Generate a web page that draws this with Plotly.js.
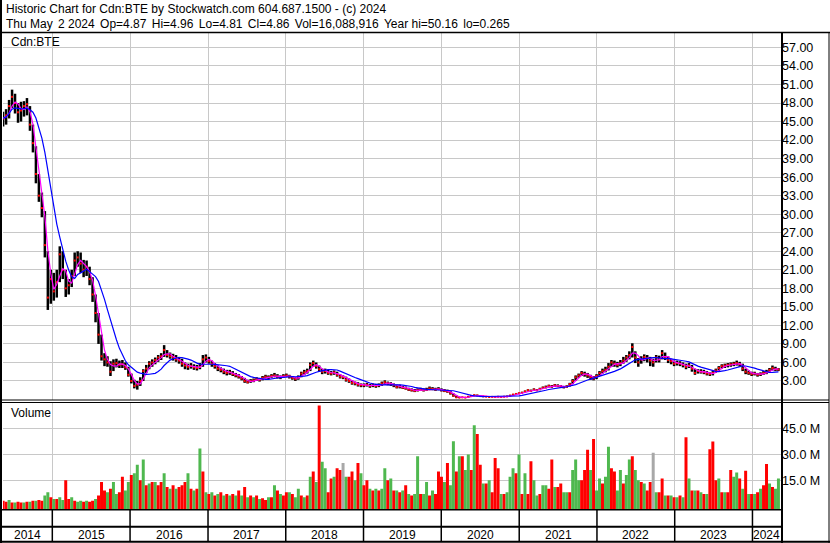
<!DOCTYPE html>
<html><head><meta charset="utf-8">
<script src="https://cdn.plot.ly/plotly-3.0.1.min.js"></script>
<style>html,body{margin:0;padding:0;background:#fff;}#chart{width:830px;height:543px;}</style>
</head><body><div id="chart"></div>
<script>
// ---- data: bi-weekly bars, Cdn:BTE, May 2014 - May 2024 ----
const firstBar = [2014, 4, 15];   // 2014-05-15
const barStepDays = 14;
const closes = [
45.5,46.0,47.5,49.0,48.0,46.5,46.8,47.5,47.8,44.5,
41.5,36.5,33.0,31.0,25.0,16.5,19.5,17.5,19.0,23.5,
21.0,18.0,18.5,20.0,22.5,23.0,22.0,21.0,21.5,19.5,
17.0,14.0,10.5,7.0,6.5,6.0,4.5,5.8,5.9,5.6,
5.7,5.2,4.0,3.0,2.2,2.4,3.0,4.6,5.0,5.8,
6.0,6.4,6.8,7.0,8.0,7.2,7.0,6.8,6.5,6.3,
5.8,5.5,5.3,5.4,5.2,5.1,5.3,6.5,6.8,6.2,
5.8,5.4,5.0,4.8,4.5,4.3,4.4,4.1,3.9,3.7,
3.4,3.0,2.8,3.0,3.1,3.3,3.2,3.5,3.7,3.6,
3.8,3.9,3.7,3.6,3.8,3.9,3.7,3.5,3.3,3.6,
4.2,4.4,4.6,5.6,5.9,5.4,4.9,4.5,4.6,4.3,
4.2,4.4,4.0,3.7,3.6,3.2,3.0,2.7,2.6,2.4,
2.3,2.3,2.4,2.2,2.3,2.2,2.3,2.6,2.8,2.6,
2.5,2.3,2.0,2.1,1.9,1.8,1.6,1.5,1.4,1.5,
1.6,1.5,1.6,1.8,1.7,1.6,1.7,1.5,1.4,1.3,
1.0,0.6,0.35,0.3,0.35,0.3,0.45,0.6,0.7,0.65,
0.55,0.5,0.45,0.4,0.42,0.4,0.45,0.4,0.45,0.5,
0.65,0.8,0.9,1.0,1.1,1.3,1.5,1.4,1.6,1.5,
1.7,1.9,2.0,2.2,2.1,2.3,2.2,2.1,2.0,2.1,
2.5,3.0,3.6,3.9,4.3,4.1,3.9,3.6,3.4,3.8,
4.3,4.6,4.8,5.3,6.0,5.8,5.6,5.9,6.3,6.8,
7.2,8.5,6.8,6.0,6.5,6.9,6.7,6.3,6.0,6.8,
6.5,7.5,6.9,6.4,6.2,5.8,5.9,5.8,5.6,5.3,
5.5,5.0,4.3,4.6,4.5,4.4,4.2,4.1,4.3,4.7,
5.1,5.4,5.5,5.6,5.7,5.8,5.9,5.7,5.0,4.5,
4.3,4.1,4.2,4.0,4.1,4.3,4.4,4.8,5.1,4.9,4.86];
const highs = [
46.6,47.0,48.5,50.16,49.5,48.0,48.2,48.3,48.8,47.5,
44.5,41.0,36.5,33.5,30.5,24.0,21.0,20.5,21.0,24.8,
24.0,21.0,19.5,21.0,23.8,24.0,23.8,22.6,22.5,21.5,
19.8,17.0,14.0,10.5,7.5,7.0,6.2,6.5,6.6,6.3,
6.4,6.0,5.3,4.2,3.2,3.0,3.6,4.9,5.6,6.2,
6.5,6.8,7.2,7.5,8.8,8.0,7.6,7.4,7.2,6.9,
6.6,6.0,5.8,5.9,5.7,5.6,5.9,7.2,7.3,6.9,
6.3,5.9,5.5,5.2,5.0,4.8,4.8,4.6,4.3,4.1,
3.8,3.5,3.2,3.3,3.4,3.6,3.5,3.8,4.0,3.9,
4.1,4.3,4.1,3.9,4.1,4.2,4.0,3.8,3.6,3.9,
4.5,4.8,5.0,6.0,6.3,6.0,5.5,5.0,5.0,4.8,
4.6,4.7,4.5,4.1,3.9,3.7,3.4,3.1,2.9,2.8,
2.6,2.6,2.7,2.5,2.6,2.5,2.6,2.9,3.1,2.9,
2.8,2.6,2.4,2.4,2.2,2.1,1.9,1.8,1.7,1.8,
1.9,1.8,1.9,2.1,2.0,1.9,2.0,1.8,1.7,1.6,
1.4,1.0,0.65,0.45,0.45,0.4,0.55,0.7,0.8,0.78,
0.68,0.6,0.55,0.5,0.5,0.48,0.52,0.48,0.52,0.58,
0.72,0.9,1.0,1.12,1.25,1.45,1.65,1.6,1.8,1.7,
1.9,2.1,2.25,2.4,2.35,2.5,2.45,2.35,2.2,2.3,
2.7,3.3,3.9,4.2,4.6,4.5,4.3,4.0,3.8,4.1,
4.6,5.0,5.3,5.9,6.4,6.3,6.1,6.4,6.9,7.2,
7.8,9.1,7.8,6.7,7.0,7.3,7.2,6.9,6.6,7.2,
7.1,8.0,7.6,7.0,6.6,6.3,6.3,6.2,6.0,5.8,
5.9,5.6,5.0,4.9,4.9,4.8,4.6,4.4,4.6,5.0,
5.4,5.7,5.8,5.9,6.0,6.1,6.3,6.1,5.8,5.0,
4.7,4.5,4.5,4.3,4.4,4.6,4.8,5.1,5.5,5.3,5.1];
const lows = [
44.2,44.5,45.5,47.2,46.3,44.8,45.0,45.8,46.0,43.5,
40.0,35.0,32.0,29.5,23.0,14.5,15.5,16.0,16.5,19.0,
19.5,16.6,17.0,18.2,20.0,21.5,20.5,19.8,20.0,18.5,
15.8,12.5,9.0,6.3,5.4,5.3,3.8,4.6,5.2,5.1,
5.1,4.8,3.7,2.6,1.8,1.6,2.2,3.0,4.3,4.9,
5.3,5.7,6.1,6.4,6.9,6.8,6.6,6.3,6.1,5.8,
5.3,4.9,4.8,5.0,4.8,4.7,4.9,5.3,6.0,5.8,
5.3,5.0,4.6,4.4,4.1,3.9,4.0,3.8,3.6,3.4,
3.1,2.7,2.6,2.7,2.8,3.0,2.9,3.1,3.4,3.3,
3.5,3.6,3.4,3.3,3.5,3.6,3.4,3.2,3.0,3.2,
3.6,4.0,4.2,4.6,5.3,5.0,4.5,4.1,4.2,4.0,
3.9,4.0,3.7,3.4,3.3,2.9,2.7,2.4,2.3,2.1,
2.0,2.0,2.1,1.9,2.0,1.9,2.0,2.2,2.4,2.3,
2.2,2.0,1.8,1.8,1.7,1.6,1.4,1.3,1.2,1.3,
1.4,1.3,1.4,1.5,1.5,1.4,1.5,1.3,1.2,1.1,
0.8,0.45,0.265,0.27,0.28,0.27,0.3,0.45,0.55,0.55,
0.48,0.44,0.4,0.36,0.37,0.35,0.38,0.36,0.39,0.43,
0.5,0.65,0.78,0.88,0.98,1.1,1.3,1.25,1.4,1.35,
1.5,1.7,1.8,1.95,1.9,2.05,2.0,1.9,1.8,1.9,
2.1,2.5,3.0,3.5,3.8,3.7,3.5,3.2,3.1,3.3,
3.8,4.2,4.4,4.7,5.3,5.3,5.2,5.4,5.8,6.1,
6.5,6.8,5.9,5.3,5.8,6.2,6.0,5.4,5.3,6.0,
6.0,6.5,6.4,5.9,5.7,5.4,5.5,5.4,5.2,4.9,
5.1,4.5,4.0,4.2,4.2,4.1,3.9,3.8,3.9,4.3,
4.6,5.0,5.1,5.2,5.3,5.4,5.5,5.3,4.6,4.1,
4.0,3.8,3.9,3.7,3.8,4.0,4.1,4.4,4.7,4.6,4.6];
const volumesM = [
3,2.5,3.5,2,2,2.5,2,2,2.5,2.5,
3,3,3.5,3,6,8,5,4,4,5,
3.5,15,4,5,3,2.5,3,2.5,3,2.5,
3,4,6,14,9,8,10,14,7,8,
17,9,14,18,19,24,15,27,12,13,
14,14,12,14,19,11,10,12,10,11,
12,14,19,10,9,10,33.5,20,8,7,
8,6,7,8,6,7,6,7,6,9,
6,11,5,6,5,6,4,4.5,3.5,5,
5,12,9,7,6,8,8,7,5,10,
6,5,6,17,20,14,58.6,25.7,22,8,
16,17,22,21,25,17,17,20,15,25,
19,12,15,10,9,10,9,10,22,15,
16,9,9,8,9,12,7,6,7,29,
7,7,14,6,9,7,20,17,14,25,
12,37.7,20,29,29,21,30,21,47,42,
24,13,13,15,8,28,22,7,7,8,
17,22,19,30,7,19,7,26,15,6,
7,12,12,10,27,11,11,13,8,8,
8,21,27,15,15,21,32.7,21,39,9,
16,13,17,34.5,22,20,9,21,13,18,
27,29,21,15,14,13,9,14,31,8,
8,16,6,6,6,5,5,6,5,40,
16,9,9,9,8,7,7,33,37.6,15,
16,8,8,8,21,17,19.5,16,10,20.5,
7,7,7,8,10,12,24.5,13,11,10,16];
// volume bar direction: r = down, g = up, n = unchanged
const volumeDir =
"rrgrgrrgrg"+"rgrrggrgrg"+"grrgrggrgr"+"rgrrrgrggr"+"rggrggrgrg"+
"rgrrgrgrgr"+"rrgrgrgrgr"+"grgrgrgrgr"+"grgrgrgrrg"+"rgrgrrgrgg"+
"rgrgrgrggr"+"rgrrngrrgr"+"grrgrgrggr"+"grgrgrgrgg"+"rggrgrrrgr"+
"ggrgrggrgr"+"rgrgrrrgrg"+"ggrgrgrrgg"+"rggrrgrrgg"+"rgggrrrgrg"+
"grggrrggrg"+"grggrgrrng"+"rrgrgrgrgr"+"grgrgrgrrr"+"grgrrggrgr"+
"grgrgrrgrgg";
const years = ['2014','2015','2016','2017','2018','2019','2020','2021','2022','2023','2024'];
const priceTicks = [3,6,9,12,15,18,21,24,27,30,33,36,39,42,45,48,51,54,57];
const volumeTicks = [15e6,30e6,45e6];
const volumeTickText = ['15.0 M','30.0 M','45.0 M'];
const maFast = 3, maSlow = 10;   // bars
const header1 = 'Historic Chart for Cdn:BTE by Stockwatch.com 604.687.1500 - (c) 2024';
const G = '\u00a0\u2006';
const header2 = 'Thu May' + G + '2 2024' + G + 'Op=4.87' + G + 'Hi=4.96' + G + 'Lo=4.81' + G +
  'Cl=4.86' + G + 'Vol=16,088,916' + G + 'Year hi=50.16' + G + 'lo=0.265';

// ---- derived ----
const DAY = 864e5;
const t0 = Date.UTC(firstBar[0], firstBar[1], firstBar[2]);
const dates = closes.map((_, i) => new Date(t0 + i * barStepDays * DAY).toISOString().slice(0, 10));
function sma(arr, n) {
  return arr.map((_, i) => {
    const s = Math.max(0, i - n + 1); let sum = 0;
    for (let k = s; k <= i; k++) sum += arr[k];
    return sum / (i - s + 1);
  });
}
const segX = [], segY = [];
dates.forEach((d, i) => { segX.push(d, d, null); segY.push(lows[i], highs[i], null); });
const VOLBASE = -1.8e6;
const dirColor = {r: '#ff0000', g: '#4fb84f', n: '#a8a8a8'};
const volColors = volumesM.map((_, i) => dirColor[volumeDir[i]]);

const xStart = '2014-05-14 12:00', xEnd = '2024-05-14';
const yearStarts = years.slice(1).map(y => y + '-01-01');

// pixel helpers for frame drawing (plot area 3..781 x 33..509)
const L = 3, R = 781, T = 33, B = 509;
const fx = p => (p - L) / (R - L);
const fy = p => (B - p) / (B - T);
const FONT = 'Liberation Sans, Arial, sans-serif';

const traces = [
  {type: 'bar', x: dates, y: volumesM.map(v => v * 1e6 - VOLBASE), base: VOLBASE,
   width: barStepDays * DAY, marker: {color: volColors, line: {width: 0}},
   xaxis: 'x', yaxis: 'y2', hoverinfo: 'skip'},
  {type: 'scatter', mode: 'lines', x: segX, y: segY, line: {color: '#000', width: 2.5},
   connectgaps: false, xaxis: 'x', yaxis: 'y', hoverinfo: 'skip'},
  {type: 'scatter', mode: 'markers', x: dates, y: closes,
   marker: {symbol: 'square', size: 2, color: '#ff0000', line: {width: 0}}, xaxis: 'x', yaxis: 'y'},
  {type: 'scatter', mode: 'lines', x: dates, y: sma(closes, maFast),
   line: {color: '#ff00ff', width: 1.2}, xaxis: 'x', yaxis: 'y'},
  {type: 'scatter', mode: 'lines', x: dates, y: sma(closes, maSlow),
   line: {color: '#0000ff', width: 1.2}, xaxis: 'x', yaxis: 'y'}
];

const hl = (x0, y0, x1, y1, w) => ({type: 'line', xref: 'paper', yref: 'paper',
  x0: fx(x0), x1: fx(x1), y0: fy(y0), y1: fy(y1), line: {color: '#000', width: w}});
const shapes = [
  hl(1, 0, 1, 543, 2),
  hl(0, 32.5, 830, 32.5, 1.5),
  hl(782, 32, 782, 543, 2),
  hl(829, 32, 829, 543, 1),
  hl(0, 400, 829, 400, 1),
  hl(0, 402.5, 829, 402.5, 1),
  hl(0, 509.8, 782, 509.8, 1.5),
  hl(0, 526.8, 782, 526.8, 2),
  hl(0, 541.8, 830, 541.8, 2)
];
yearStarts.forEach(d => shapes.push({type: 'line', xref: 'x', yref: 'paper', x0: d, x1: d,
  y0: fy(510), y1: fy(541), line: {color: '#000', width: 1.5}}));

const annotations = [
  {text: header1, x: fx(4), y: fy(9), xanchor: 'left', yanchor: 'middle'},
  {text: header2, x: fx(4), y: fy(23.5), xanchor: 'left', yanchor: 'middle'},
  {text: 'Cdn:BTE', x: fx(9), y: fy(42), xanchor: 'left', yanchor: 'middle'},
  {text: 'Volume', x: fx(9), y: fy(413), xanchor: 'left', yanchor: 'middle'}
].map(a => Object.assign(a, {xref: 'paper', yref: 'paper', showarrow: false,
  font: {family: FONT, size: 12, color: '#000'}}));
const ms0 = Date.parse(xStart.replace(' ', 'T') + 'Z'), ms1 = Date.parse(xEnd + 'T00:00Z');
years.forEach(y => {
  const a = Math.max(ms0, Date.UTC(+y, 0, 1)), b = Math.min(ms1, Date.UTC(+y + 1, 0, 1));
  annotations.push({text: y, xref: 'x', yref: 'paper', x: new Date((a + b) / 2).toISOString(),
    y: fy(534.5), xanchor: 'center', yanchor: 'middle', showarrow: false,
    font: {family: FONT, size: 12, color: '#000'}});
});

const layout = {
  width: 830, height: 543, margin: {l: L, r: 830 - R, t: T, b: 543 - B, pad: 0},
  paper_bgcolor: '#fff', plot_bgcolor: '#fff', showlegend: false, hovermode: false,
  xaxis: {type: 'date', range: [xStart, xEnd], tickvals: yearStarts, showticklabels: false,
    showgrid: true, gridcolor: '#c8c8c8', gridwidth: 1, zeroline: false, showline: false,
    ticks: '', anchor: 'y2'},
  yaxis: {domain: [fy(400), 1], range: [(399.5 - 400) / 6.177, (399.5 - 33) / 6.177],
    side: 'right', tickvals: priceTicks, tickformat: '.2f', gridcolor: '#c8c8c8', gridwidth: 1,
    zeroline: false, showline: false, ticks: '', anchor: 'x',
    tickfont: {family: FONT, size: 12.5, color: '#000'}},
  yaxis2: {domain: [0, fy(402.5)], range: [VOLBASE, 60.3e6], side: 'right',
    tickvals: volumeTicks, ticktext: volumeTickText, gridcolor: '#c8c8c8', gridwidth: 1,
    zeroline: false, showline: false, ticks: '', anchor: 'x',
    tickfont: {family: FONT, size: 12.5, color: '#000'}},
  shapes: shapes, annotations: annotations
};
Plotly.newPlot('chart', traces, layout, {staticPlot: true, displayModeBar: false});
</script></body></html>
